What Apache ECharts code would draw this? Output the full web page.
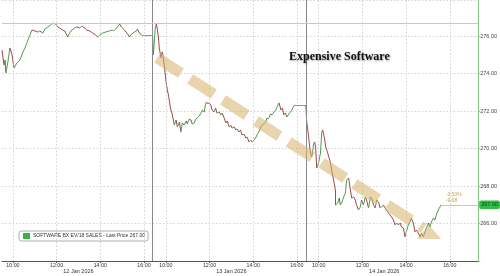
<!DOCTYPE html>
<html><head><meta charset="utf-8">
<script src="https://cdn.jsdelivr.net/npm/echarts@6/dist/echarts.min.js"></script>
<style>html,body{margin:0;padding:0;background:#fff}#c{width:500px;height:276px}</style>
</head><body><div id="c"></div>
<script>
// Session time in hours since 12 Jan 2026 09:30 (each trading day = 7 hours, 09:30-16:30)
const times = [0.00,0.09,0.14,0.18,0.27,0.36,0.46,0.55,0.68,0.82,0.96,1.05,1.19,1.28,1.37,1.50,1.64,1.73,1.87,1.96,2.10,2.23,2.33,2.46,2.55,2.64,2.78,2.87,3.01,3.10,3.19,3.33,3.42,3.56,3.65,3.78,3.88,4.01,4.15,4.29,4.38,4.47,4.61,4.74,4.92,5.06,5.15,5.29,5.38,5.47,5.61,5.75,5.84,5.93,6.06,6.16,6.20,6.29,6.38,6.43,6.89,
6.93,7.02,7.07,7.11,7.16,7.20,7.28,7.33,7.36,7.43,7.51,7.57,7.62,7.71,7.80,7.89,7.97,8.03,8.12,8.19,8.25,8.34,8.44,8.48,8.57,8.65,8.71,8.80,8.87,8.94,9.03,9.11,9.17,9.26,9.30,9.35,9.44,9.48,9.56,9.62,9.71,9.78,9.84,9.94,10.02,10.08,10.17,10.25,10.31,10.40,10.47,10.53,10.63,10.70,10.76,10.85,10.92,10.99,11.08,11.16,11.22,11.31,11.38,11.45,11.54,11.61,11.67,11.76,11.83,11.90,11.99,12.07,12.13,12.22,12.29,12.36,12.45,12.53,12.59,12.68,12.72,12.77,12.84,12.90,12.97,13.04,13.13,13.21,13.27,13.36,13.41,13.91,
13.95,14.00,14.04,14.09,14.12,14.18,14.23,14.27,14.32,14.36,14.41,14.46,14.50,14.58,14.64,14.68,14.76,14.82,14.90,14.96,15.03,15.09,15.18,15.26,15.27,15.37,15.44,15.49,15.55,15.64,15.72,15.78,15.87,15.95,16.01,16.10,16.18,16.23,16.32,16.40,16.46,16.55,16.63,16.69,16.78,16.86,16.92,17.01,17.09,17.15,17.24,17.31,17.37,17.46,17.54,17.60,17.69,17.77,17.83,17.92,17.99,18.06,18.15,18.23,18.29,18.38,18.45,18.51,18.60,18.68,18.74,18.83,18.91,18.97,19.06,19.14,19.20,19.29,19.37,19.43,19.52,19.59,19.66,19.75,19.82,19.88,19.97,20.05,20.11];
const prices = [275.25,274.45,274.72,274.03,274.61,275.36,274.99,274.29,274.56,274.72,275.15,275.36,275.79,276.05,276.32,276.27,276.21,276.27,276.16,276.37,276.48,276.59,276.69,276.64,276.48,276.43,276.32,276.27,275.95,276.16,276.32,276.43,276.48,276.43,276.53,276.43,276.32,276.27,276.16,276.05,275.95,276.05,276.16,276.21,276.27,276.32,276.32,276.48,276.64,276.48,276.32,276.11,275.95,276.11,276.21,276.27,276.37,276.16,276.05,276.05,276.05,
274.99,276.48,276.64,276.37,275.95,275.36,274.83,275.15,275.04,274.45,273.55,273.12,272.85,272.16,271.79,271.25,271.52,271.15,271.41,270.88,271.36,271.25,271.47,271.31,271.57,271.52,271.31,271.36,271.57,271.63,271.73,271.89,272.05,271.95,272.27,272.48,272.37,272.43,272.32,272.05,271.95,272.16,271.89,271.95,271.79,271.89,271.63,271.36,271.47,271.15,271.25,271.09,271.15,270.99,271.04,270.88,270.99,270.72,270.77,270.56,270.61,270.35,270.45,270.35,270.45,270.56,270.72,270.88,271.09,271.25,271.31,271.41,271.63,271.63,271.84,271.79,271.95,272.05,272.21,272.43,272.27,272.05,272.16,271.79,271.89,271.68,271.84,271.95,272.05,272.27,272.32,272.32,
271.41,270.99,270.61,270.03,269.76,269.55,269.92,270.29,270.35,270.03,268.96,269.12,269.28,269.76,270.88,270.99,270.56,270.08,269.81,269.55,269.28,268.85,268.32,267.79,266.99,267.09,267.36,266.99,267.09,267.41,267.63,268.32,268.43,267.79,267.36,267.41,267.25,266.99,266.72,266.88,267.25,266.99,267.41,267.25,266.83,267.41,267.36,266.99,266.83,267.25,267.15,266.83,266.88,266.99,266.83,266.72,266.56,266.45,266.35,266.19,265.92,266.03,265.92,266.03,265.81,265.76,265.28,265.55,265.92,266.08,266.29,266.03,265.55,265.65,265.49,265.28,265.49,265.28,265.55,265.76,266.03,265.81,266.08,266.29,266.19,266.45,266.72,266.88,267.00];

const seriesName = 'SOFTWARE BX EV/18 SALES - Last Price 267.00';
const lastPrice = 267.00;
const prevClose = 276.68;
const changeText = ['-3.50%', '-9.68'];
const timeTicks = [0.5,2.5,4.5,6.5,7.5,9.5,11.5,13.5,14.5,16.5,18.5,20.5];
const dayBreaks = [6.9,13.92];
const dayCenters = [3.5,10.5,17.5];
const dayLabels = ['12 Jan 2026','13 Jan 2026','14 Jan 2026'];
const arrowFrom = [7.11, 274.83];
const arrowTo = [19.3, 265.75];
const title = 'Expensive Software';

const XMIN = 0, XMAX = 21.8, YMIN = 264, YMAX = 277.92;

function fmtTime(h){
  const d = Math.floor(h/7 + 1e-9);
  let t = h - d*7 + 9.5;
  const hh = Math.floor(t + 1e-9), mm = Math.round((t-hh)*60);
  return String(hh).padStart(2,'0') + ':' + String(mm).padStart(2,'0');
}

const segs = [];
for (let i = 1; i < times.length; i++) {
  const d = prices[i] - prices[i-1];
  const col = d > 0 ? '#4f9e4f' : (d < 0 ? '#9c4b48' : '#8a9a8a');
  segs.push({coords: [[times[i-1], prices[i-1]], [times[i], prices[i]]], lineStyle: {color: col}});
}

const font = 'Liberation Sans, Arial, sans-serif';
const chart = echarts.init(document.getElementById('c'), null, {renderer: 'canvas'});
chart.setOption({
  animation: false,
  backgroundColor: '#fff',
  title: {
    text: title, left: 284, top: 46,
    textStyle: {fontFamily: 'Liberation Serif, Times New Roman, serif', fontWeight: 'bold', fontSize: 12, color: '#111',
      textShadowColor: 'rgba(0,0,0,0.35)', textShadowBlur: 2, textShadowOffsetX: 1, textShadowOffsetY: 1}
  },
  legend: {
    left: 19, top: 231, orient: 'horizontal',
    data: [{name: seriesName, icon: 'rect', itemStyle: {color: '#36b341'}}],
    itemWidth: 5, itemHeight: 4, itemGap: 2,
    padding: [2, 3, 2, 4], borderColor: '#9a9a9a', borderWidth: 0.8, borderRadius: 2,
    textStyle: {fontFamily: font, fontSize: 5, color: '#333', padding: [0,0,0,-1]},
    selectedMode: false
  },
  grid: {left: 2, right: 20, top: 0, bottom: 15},
  xAxis: [{
    type: 'value', min: XMIN, max: XMAX,
    axisLine: {show: true, onZero: false, lineStyle: {color: '#555', width: 1}},
    axisTick: {show: true, customValues: timeTicks, length: 2, lineStyle: {color: '#555'}},
    axisLabel: {show: true, customValues: timeTicks, formatter: v => fmtTime(v), fontFamily: font, fontSize: 5.3, color: '#333', margin: 2},
    splitLine: {show: false}
  }, {
    type: 'value', min: XMIN, max: XMAX, position: 'bottom', offset: 6,
    axisLine: {show: false}, axisTick: {show: false}, splitLine: {show: false},
    axisLabel: {show: true, customValues: dayCenters, formatter: v => dayLabels[dayCenters.indexOf(v)] || '', fontFamily: font, fontSize: 5.5, color: '#333', margin: 1}
  }],
  yAxis: {
    type: 'value', position: 'right', min: YMIN, max: YMAX, interval: 2,
    axisLine: {show: true, onZero: false, lineStyle: {color: '#86c986', width: 1}},
    axisTick: {show: true, length: 2, lineStyle: {color: '#86c986'}},
    axisLabel: {show: true, showMaxLabel: false, formatter: v => v <= YMIN ? '' : v.toFixed(2), fontFamily: font, fontSize: 5.5, color: '#444', margin: 2},
    splitLine: {show: true, lineStyle: {color: '#c8c8c8', type: [1.5, 2], width: 0.8}}
  },
  series: [
    {
      type: 'line', name: 'grid', data: [], silent: true, z: 1,
      markLine: {
        silent: true, symbol: 'none', label: {show: false}, animation: false,
        data: timeTicks.map(v => ({xAxis: v, lineStyle: {color: '#c8c8c8', type: [1.5, 2], width: 0.8}}))
          .concat(dayBreaks.map(v => ({xAxis: v, lineStyle: {color: '#8a8a8a', type: 'solid', width: 1}})))
          .concat([{yAxis: prevClose, lineStyle: {color: '#cfd08a', type: 'solid', width: 1}}])
      }
    },
    {
      type: 'lines', name: seriesName, coordinateSystem: 'cartesian2d', polyline: false, z: 3,
      color: '#36b341',
      lineStyle: {width: 1, opacity: 1},
      data: segs
    },
    {
      type: 'line', name: 'annot', data: times.map((t,i)=>[t, prices[i]]), showSymbol: false, z: 4, silent: true,
      lineStyle: {opacity: 0}, itemStyle: {color: 'transparent'},
      markLine: {
        silent: true, animation: false,
        data: [
          [{coord: arrowFrom, symbol: 'none'}, {coord: arrowTo, symbol: 'none',
            lineStyle: {color: 'rgba(214,178,108,0.55)', width: 11, type: [28, 11], cap: 'butt'}}],
          [{coord: [times[times.length-1], lastPrice], symbol: 'none'}, {coord: [XMAX, lastPrice], symbol: 'none',
            lineStyle: {color: '#d9c884', width: 1, type: 'solid'},
            label: {show: true, position: 'end', distance: 1, formatter: lastPrice.toFixed(2), backgroundColor: '#2fbf45',
              color: '#0b3d12', fontFamily: font, fontSize: 5.5, padding: [1.5, 2, 1, 2], borderRadius: 2}}]
        ],
        label: {show: false}
      },
      markPoint: {
        silent: true, symbol: 'circle', symbolSize: 1, itemStyle: {color: 'transparent'},
        data: [{coord: [times[times.length-1], lastPrice],
          label: {show: true, position: 'right', offset: [-1, -7], formatter: changeText.join('\n'), color: '#caa24e', fontFamily: font, fontSize: 5, lineHeight: 6, align: 'left'}}]
      }
    },
    {
      type: 'line', name: 'arrowhead', data: [], silent: true, z: 2,
      markLine: {
        silent: true, animation: false, label: {show: false},
        data: [[{coord: [18.85, 266.08], symbol: 'none'}, {coord: [19.55, 265.55], symbol: 'triangle', symbolSize: [24, 14], symbolRotate: 0,
          lineStyle: {color: 'rgba(214,178,108,0.55)', width: 0.1, type: 'solid'}, itemStyle: {color: 'rgba(214,178,108,0.55)'}}]]
      }
    }
  ]
});
</script></body></html>
